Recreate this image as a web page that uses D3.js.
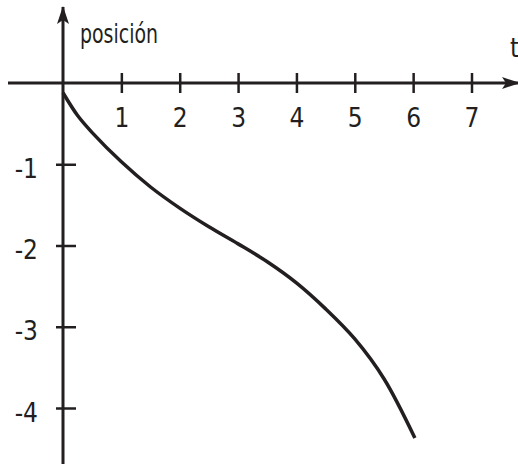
<!DOCTYPE html>
<html>
<head>
<meta charset="utf-8">
<script src="https://cdn.jsdelivr.net/npm/d3@7"></script>
<style>
  body { margin: 0; background: #fff; }
  svg text { font-family: "Liberation Sans Narrow", "DejaVu Sans Condensed", "Roboto Condensed", sans-serif; fill: #231f20; }
</style>
</head>
<body>
<svg class="chart"></svg>
<script>
// tiempo y posición
var tiempo = [0, 0.25, 0.5, 1, 1.5, 2, 2.5, 3, 3.5, 4, 4.5, 5, 5.5, 6.03];
var posicion = [-0.12, -0.4, -0.61, -0.97, -1.28, -1.54, -1.77, -1.98, -2.2, -2.46, -2.78, -3.15, -3.64, -4.37];

var xTicks = [1, 2, 3, 4, 5, 6, 7];
var yTicks = [-1, -2, -3, -4];

var width = 518,
    height = 464;
var ink = "#231f20";
var fontSize = 26;

var svg = d3.select(".chart")
    .attr("width", width)
    .attr("height", height);

// x - tiempo
var x = d3.scaleLinear()
    .domain([0, 7])
    .range([63, 471.5]);

// y - posición
var y = d3.scaleLinear()
    .domain([0, -4])
    .range([83, 408]);

// arrow heads
var defs = svg.append("defs");
defs.append("marker")
    .attr("id", "arrow")
    .attr("viewBox", "0 0 18 12")
    .attr("refX", 17)
    .attr("refY", 6)
    .attr("markerWidth", 18)
    .attr("markerHeight", 12)
    .attr("markerUnits", "userSpaceOnUse")
    .attr("orient", "auto")
  .append("path")
    .attr("d", "M0,0 L18,6 L0,12 L4,6 Z")
    .attr("fill", ink);

// x axis
var xAxis = d3.axisBottom(x)
    .tickValues(xTicks)
    .tickSize(10)
    .tickFormat(function(d) { return String(d); });

var gx = svg.append("g")
    .attr("class", "x axis")
    .attr("transform", "translate(0," + y(0) + ")")
    .call(xAxis);

gx.select(".domain").remove();
gx.selectAll(".tick line")
    .attr("y1", -10)
    .attr("y2", 10)
    .attr("stroke", ink)
    .attr("stroke-width", 2.5);
gx.selectAll(".tick text")
    .attr("font-size", fontSize)
    .attr("y", 44)
    .attr("dy", 0);

svg.append("line")
    .attr("x1", 8)
    .attr("x2", 519)
    .attr("y1", y(0))
    .attr("y2", y(0))
    .attr("stroke", ink)
    .attr("stroke-width", 3)
    .attr("marker-end", "url(#arrow)");

// y axis
var yAxis = d3.axisLeft(y)
    .tickValues(yTicks)
    .tickSize(7)
    .tickFormat(function(d) { return "-" + Math.abs(d); });

var gy = svg.append("g")
    .attr("class", "y axis")
    .attr("transform", "translate(" + x(0) + ",0)")
    .call(yAxis);

gy.select(".domain").remove();
gy.selectAll(".tick line")
    .attr("x1", -7)
    .attr("x2", 13)
    .attr("stroke", ink)
    .attr("stroke-width", 2.5);
gy.selectAll(".tick text")
    .attr("font-size", fontSize)
    .attr("x", -25)
    .attr("dy", "0.5em");

svg.append("line")
    .attr("x1", x(0))
    .attr("x2", x(0))
    .attr("y1", height)
    .attr("y2", 7)
    .attr("stroke", ink)
    .attr("stroke-width", 3)
    .attr("marker-end", "url(#arrow)");

// axis names
svg.append("text")
    .attr("x", 80)
    .attr("y", 43)
    .attr("font-size", fontSize)
    .attr("textLength", 78)
    .attr("lengthAdjust", "spacingAndGlyphs")
    .text("posición");

svg.append("text")
    .attr("x", 510)
    .attr("y", 57)
    .attr("font-size", fontSize)
    .text("t");

// curva
var line = d3.line()
    .x(function(d, i) { return x(tiempo[i]); })
    .y(function(d) { return y(d); })
    .curve(d3.curveCatmullRom.alpha(0.5));

svg.append("path")
    .datum(posicion)
    .attr("fill", "none")
    .attr("stroke", ink)
    .attr("stroke-width", 3.5)
    .attr("d", line);
</script>
</body>
</html>
